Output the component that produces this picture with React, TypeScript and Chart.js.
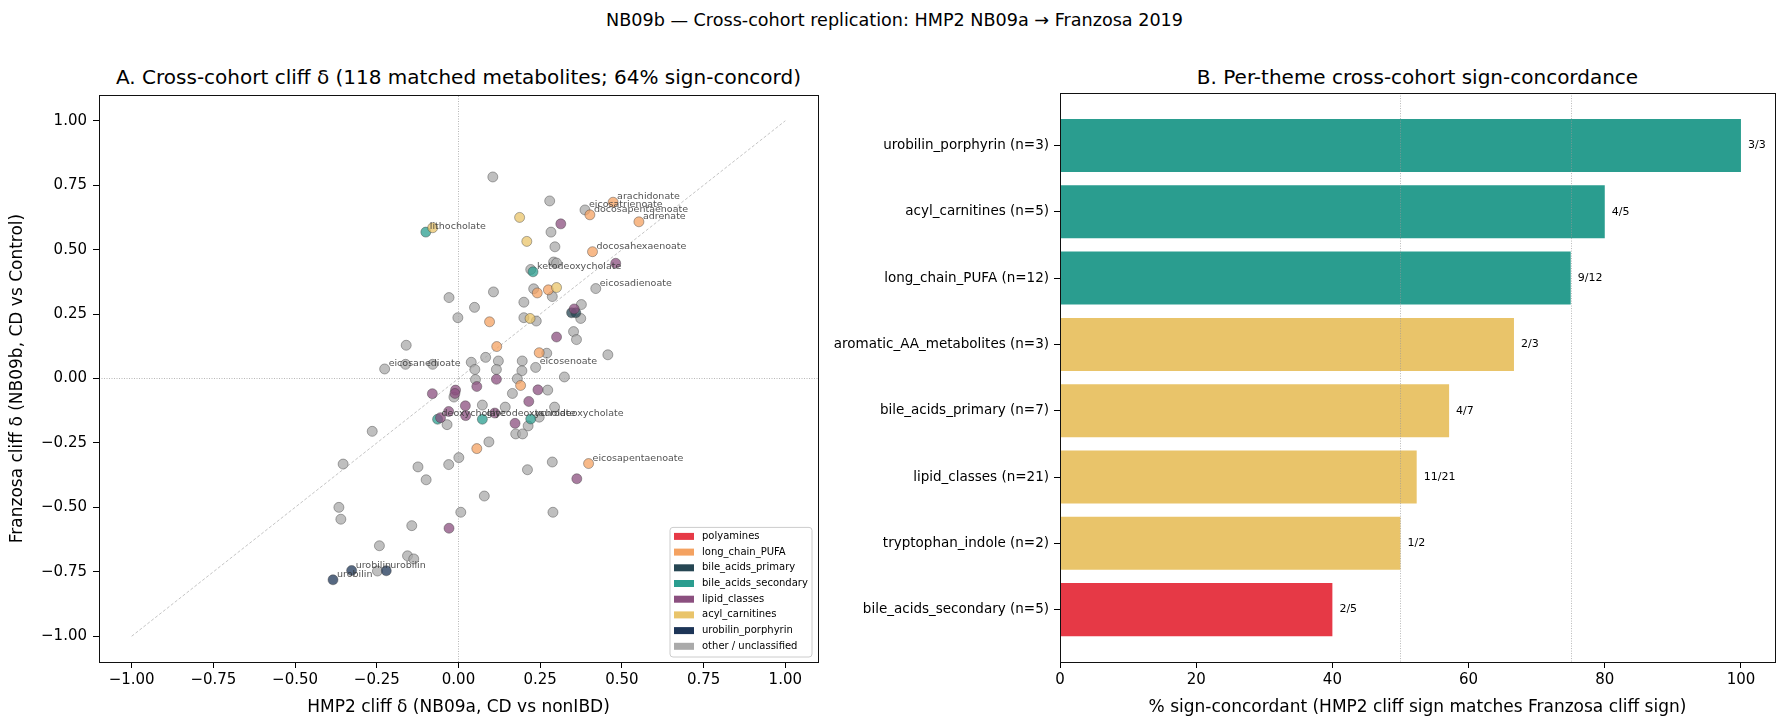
import React, { useEffect, useRef } from 'react';
import { Chart, registerables } from 'chart.js';

Chart.register(...registerables);

const FONT = "'DejaVu Sans', 'Liberation Sans', sans-serif";

// ---------- text ----------
const SUPTITLE = 'NB09b — Cross-cohort replication: HMP2 NB09a → Franzosa 2019';
const TITLE_A = 'A. Cross-cohort cliff δ (118 matched metabolites; 64% sign-concord)';
const TITLE_B = 'B. Per-theme cross-cohort sign-concordance';
const XLABEL_A = 'HMP2 cliff δ (NB09a, CD vs nonIBD)';
const YLABEL_A = 'Franzosa cliff δ (NB09b, CD vs Control)';
const XLABEL_B = '% sign-concordant (HMP2 cliff sign matches Franzosa cliff sign)';

// ---------- panel A ----------
const TICKS_A = [-1, -0.75, -0.5, -0.25, 0, 0.25, 0.5, 0.75, 1];
const RANGE_A = [-1.1, 1.1];
const DIAG_A = [-1, 1];

const LEGEND_THEMES = [
  'polyamines',
  'long_chain_PUFA',
  'bile_acids_primary',
  'bile_acids_secondary',
  'lipid_classes',
  'acyl_carnitines',
  'urobilin_porphyrin',
  'other / unclassified',
];
const LEGEND_COLORS = ['#e63946', '#f4a261', '#264653', '#2a9d8f', '#8b4f7f', '#e9c46a', '#1d3557', '#aaaaaa'];

const PUFA_X = [0.473, 0.402, 0.552, 0.41, 0.241, 0.275, 0.095, 0.117, 0.247, 0.19, 0.056, 0.398];
const PUFA_Y = [0.684, 0.635, 0.608, 0.492, 0.332, 0.344, 0.22, 0.124, 0.1, -0.027, -0.272, -0.33];
const PUFA_LABELS: [number, string][] = [[0, 'arachidonate'], [1, 'docosapentaenoate'], [2, 'adrenate'], [3, 'docosahexaenoate'], [11, 'eicosapentaenoate']];

const BAP_X = [0.346, 0.359];
const BAP_Y = [0.255, 0.255];
const BAP_LABELS: [number, string][] = [];

const BAS_X = [-0.1, 0.228, -0.064, 0.073, 0.221];
const BAS_Y = [0.568, 0.414, -0.158, -0.158, -0.157];
const BAS_LABELS: [number, string][] = [[0, 'lithocholate'], [1, 'ketodeoxycholate'], [2, 'deoxycholate'], [3, 'glycodeoxycholate'], [4, 'taurodeoxycholate']];

const LIPID_X = [0.313, 0.481, 0.354, 0.3, 0.116, 0.056, -0.08, -0.009, -0.011, 0.243, 0.215, 0.021, -0.03, -0.055, 0.022, 0.111, 0.173, 0.362, -0.029];
const LIPID_Y = [0.6, 0.447, 0.27, 0.161, -0.003, -0.031, -0.059, -0.045, -0.058, -0.044, -0.089, -0.106, -0.128, -0.152, -0.144, -0.134, -0.174, -0.389, -0.581];
const LIPID_LABELS: [number, string][] = [];

const ACYL_X = [-0.079, 0.187, 0.209, 0.3, 0.219];
const ACYL_Y = [0.585, 0.625, 0.532, 0.353, 0.233];
const ACYL_LABELS: [number, string][] = [];

const URO_X = [-0.327, -0.221, -0.384];
const URO_Y = [-0.745, -0.746, -0.781];
const URO_LABELS: [number, string][] = [[0, 'urobilin'], [1, 'urobilin'], [2, 'urobilin']];

const OTHER_X = [0.105, 0.279, 0.387, 0.283, 0.295, 0.291, 0.3, 0.221, 0.42, -0.029, 0.107, 0.049, 0.23, 0.287, 0.2, 0.376, 0.374, -0.002, 0.2, 0.238, 0.352, 0.361, -0.16, 0.27, 0.457, -0.226, -0.162, -0.079, 0.039, 0.083, 0.122, 0.05, 0.116, 0.195, 0.194, 0.236, 0.324, 0.052, 0.18, -0.014, 0.165, 0.273, 0.073, 0.143, 0.294, 0.247, -0.035, 0.213, 0.175, 0.196, 0.093, 0.001, -0.03, -0.124, -0.099, 0.211, 0.287, 0.079, 0.007, 0.289, -0.143, -0.156, -0.137, -0.264, -0.353, -0.366, -0.36, -0.242, -0.248];
const OTHER_Y = [0.782, 0.689, 0.654, 0.568, 0.511, 0.452, 0.448, 0.423, 0.349, 0.314, 0.336, 0.276, 0.348, 0.318, 0.296, 0.287, 0.233, 0.236, 0.236, 0.223, 0.182, 0.151, 0.129, 0.098, 0.092, 0.037, 0.055, 0.055, 0.063, 0.082, 0.068, 0.035, 0.035, 0.068, 0.03, 0.043, 0.006, -0.004, -0.001, -0.072, -0.058, -0.045, -0.103, -0.111, -0.111, -0.15, -0.179, -0.184, -0.215, -0.215, -0.246, -0.307, -0.334, -0.343, -0.393, -0.354, -0.324, -0.456, -0.519, -0.519, -0.571, -0.688, -0.7, -0.205, -0.332, -0.5, -0.546, -0.649, -0.747];
const OTHER_LABELS: [number, string][] = [[2, 'eicosatrienoate'], [8, 'eicosadienoate'], [25, 'eicosanedioate'], [35, 'eicosenoate']];

// ---------- panel B ----------
const THEMES_B = [
  'urobilin_porphyrin',
  'acyl_carnitines',
  'long_chain_PUFA',
  'aromatic_AA_metabolites',
  'bile_acids_primary',
  'lipid_classes',
  'tryptophan_indole',
  'bile_acids_secondary',
];
const N_B = [3, 5, 12, 3, 7, 21, 2, 5];
const CONCORDANT_B = [3, 4, 9, 2, 4, 11, 1, 2];
const TICKS_B = [0, 20, 40, 60, 80, 100];
const RANGE_B = [0, 105];
const REF_LINES_B = [50, 75];
const BAR_COLORS = { high: '#2a9d8f', mid: '#e9c46a', low: '#e63946' };

// ---------- helpers ----------
function rgba(hex: string, a: number) {
  const h = hex.replace('#', '');
  const r = parseInt(h.slice(0, 2), 16);
  const g = parseInt(h.slice(2, 4), 16);
  const b = parseInt(h.slice(4, 6), 16);
  return `rgba(${r},${g},${b},${a})`;
}
const fmtA = (v: number) => (v < 0 ? '\u2212' : '') + Math.abs(v).toFixed(2);

const framePlugin = {
  id: 'frame',
  afterDraw(chart: any) {
    const { ctx, chartArea: a } = chart;
    ctx.save();
    ctx.strokeStyle = '#111';
    ctx.lineWidth = 1;
    ctx.strokeRect(Math.round(a.left) + 0.5, Math.round(a.top) + 0.5, Math.round(a.right - a.left), Math.round(a.bottom - a.top));
    ctx.restore();
  },
};

function ScatterPanel() {
  const ref = useRef<HTMLCanvasElement>(null);
  useEffect(() => {
    const groups = [
      { theme: 1, x: PUFA_X, y: PUFA_Y, labels: PUFA_LABELS },
      { theme: 2, x: BAP_X, y: BAP_Y, labels: BAP_LABELS },
      { theme: 3, x: BAS_X, y: BAS_Y, labels: BAS_LABELS },
      { theme: 4, x: LIPID_X, y: LIPID_Y, labels: LIPID_LABELS },
      { theme: 5, x: ACYL_X, y: ACYL_Y, labels: ACYL_LABELS },
      { theme: 6, x: URO_X, y: URO_Y, labels: URO_LABELS },
      { theme: 7, x: OTHER_X, y: OTHER_Y, labels: OTHER_LABELS },
    ];
    const datasets: any[] = groups.map((g) => ({
      type: 'scatter',
      data: g.x.map((x, i) => ({ x, y: g.y[i] })),
      pointRadius: 5,
      pointHoverRadius: 5,
      pointBackgroundColor: rgba(LEGEND_COLORS[g.theme], 0.75),
      pointBorderColor: 'rgba(60,60,60,0.7)',
      pointBorderWidth: 0.6,
      order: g.theme === 7 ? 50 : 20 - g.theme,
    }));
    const lineDs = (pts: { x: number; y: number }[], dash: number[], color: string, w: number) => ({
      type: 'line',
      data: pts,
      showLine: true,
      borderColor: color,
      borderWidth: w,
      borderDash: dash,
      pointRadius: 0,
      fill: false,
      order: 100,
    });
    datasets.push(lineDs([{ x: DIAG_A[0], y: DIAG_A[0] }, { x: DIAG_A[1], y: DIAG_A[1] }], [3, 2], '#b5b5b5', 0.8));
    datasets.push(lineDs([{ x: RANGE_A[0], y: 0 }, { x: RANGE_A[1], y: 0 }], [1, 1.5], '#9a9a9a', 0.7));
    datasets.push(lineDs([{ x: 0, y: RANGE_A[0] }, { x: 0, y: RANGE_A[1] }], [1, 1.5], '#9a9a9a', 0.7));

    const labelPlugin = {
      id: 'pointLabels',
      afterDatasetsDraw(chart: any) {
        const { ctx } = chart;
        ctx.save();
        ctx.font = `9.5px ${FONT}`;
        ctx.fillStyle = 'rgba(50,50,50,0.85)';
        ctx.textAlign = 'left';
        ctx.textBaseline = 'alphabetic';
        groups.forEach((g, di) => {
          const meta = chart.getDatasetMeta(di);
          g.labels.forEach(([idx, text]) => {
            const el = meta.data[idx];
            if (el) ctx.fillText(text, el.x + 4, el.y - 3);
          });
        });
        ctx.restore();
      },
    };

    const legendPlugin = {
      id: 'boxLegend',
      afterDraw(chart: any) {
        const { ctx, chartArea: a } = chart;
        const w = 142;
        const rowH = 15.7;
        const h = LEGEND_THEMES.length * rowH + 4;
        const right = a.right - 6;
        const bottom = a.bottom - 5;
        const left = right - w;
        const top = bottom - h;
        ctx.save();
        ctx.beginPath();
        const r = 3;
        ctx.moveTo(left + r, top);
        ctx.lineTo(right - r, top);
        ctx.quadraticCurveTo(right, top, right, top + r);
        ctx.lineTo(right, bottom - r);
        ctx.quadraticCurveTo(right, bottom, right - r, bottom);
        ctx.lineTo(left + r, bottom);
        ctx.quadraticCurveTo(left, bottom, left, bottom - r);
        ctx.lineTo(left, top + r);
        ctx.quadraticCurveTo(left, top, left + r, top);
        ctx.closePath();
        ctx.fillStyle = 'rgba(255,255,255,0.8)';
        ctx.fill();
        ctx.strokeStyle = '#cccccc';
        ctx.lineWidth = 1;
        ctx.stroke();
        ctx.font = `10px ${FONT}`;
        ctx.textBaseline = 'middle';
        ctx.textAlign = 'left';
        LEGEND_THEMES.forEach((t, i) => {
          const cy = top + 9 + i * rowH;
          ctx.fillStyle = LEGEND_COLORS[i];
          ctx.fillRect(left + 4, cy - 3.5, 20, 7);
          ctx.fillStyle = '#000';
          ctx.fillText(t, left + 32, cy);
        });
        ctx.restore();
      },
    };

    const axisCommon = {
      type: 'linear',
      min: RANGE_A[0],
      max: RANGE_A[1],
      grid: { display: true, drawOnChartArea: false, drawTicks: true, tickLength: 6, tickColor: '#000', tickWidth: 1 },
      border: { display: false },
      ticks: { color: '#000', font: { family: FONT, size: 15 }, callback: (v: any) => fmtA(Number(v)), autoSkip: false, maxRotation: 0 },
      afterBuildTicks: (axis: any) => {
        axis.ticks = TICKS_A.map((v) => ({ value: v }));
      },
    };

    const chart = new Chart(ref.current as HTMLCanvasElement, {
      type: 'scatter',
      data: { datasets },
      options: {
        animation: false,
        responsive: false,
        events: [],
        layout: { padding: { top: 12, right: 22, bottom: 0, left: 0 } },
        plugins: { legend: { display: false }, tooltip: { enabled: false }, title: { display: false } },
        scales: {
          x: {
            ...axisCommon,
            ticks: { ...axisCommon.ticks, padding: 3 },
            title: { display: true, text: XLABEL_A, color: '#000', font: { family: FONT, size: 17 }, padding: { top: 0, bottom: 10 } },
            afterFit: (axis: any) => {
              axis.height = 66;
            },
          },
          y: {
            ...axisCommon,
            ticks: { ...axisCommon.ticks, padding: 6 },
            title: { display: true, text: YLABEL_A, color: '#000', font: { family: FONT, size: 17 }, padding: { top: 7, bottom: 0 } },
            afterFit: (axis: any) => {
              axis.width = 99;
            },
          },
        },
      } as any,
      plugins: [labelPlugin, legendPlugin, framePlugin],
    });
    return () => chart.destroy();
  }, []);
  return <canvas ref={ref} width={840} height={648} style={{ position: 'absolute', left: 0, top: 80, width: 840, height: 648 }} />;
}

function BarPanel() {
  const ref = useRef<HTMLCanvasElement>(null);
  useEffect(() => {
    const pct = THEMES_B.map((_, i) => (CONCORDANT_B[i] / N_B[i]) * 100);
    const colors = pct.map((p) => (p >= 75 ? BAR_COLORS.high : p >= 50 ? BAR_COLORS.mid : BAR_COLORS.low));
    const catLabels = THEMES_B.map((t, i) => `${t} (n=${N_B[i]})`);

    const annotPlugin = {
      id: 'barAnnot',
      afterDatasetsDraw(chart: any) {
        const { ctx, chartArea: a } = chart;
        const xs = chart.scales.x;
        ctx.save();
        ctx.strokeStyle = '#999';
        ctx.lineWidth = 0.7;
        ctx.setLineDash([1, 1.5]);
        REF_LINES_B.forEach((v) => {
          const px = Math.round(xs.getPixelForValue(v)) + 0.5;
          ctx.beginPath();
          ctx.moveTo(px, a.top);
          ctx.lineTo(px, a.bottom);
          ctx.stroke();
        });
        ctx.setLineDash([]);
        const meta = chart.getDatasetMeta(0);
        ctx.font = `11px ${FONT}`;
        ctx.fillStyle = '#000';
        ctx.textAlign = 'left';
        ctx.textBaseline = 'middle';
        meta.data.forEach((el: any, i: number) => {
          ctx.fillText(`${CONCORDANT_B[i]}/${N_B[i]}`, el.x + 7, el.y);
        });
        ctx.restore();
      },
    };

    const chart = new Chart(ref.current as HTMLCanvasElement, {
      type: 'bar',
      data: {
        datasets: [
          {
            data: pct.map((p, i) => ({ x: p, y: i })),
            backgroundColor: colors,
            borderWidth: 0,
            barPercentage: 0.8,
            categoryPercentage: 1,
          },
        ],
      },
      options: {
        animation: false,
        responsive: false,
        events: [],
        indexAxis: 'y',
        layout: { padding: { top: 12, right: 14, bottom: 0, left: 0 } },
        plugins: { legend: { display: false }, tooltip: { enabled: false }, title: { display: false } },
        scales: {
          x: {
            type: 'linear',
            min: RANGE_B[0],
            max: RANGE_B[1],
            offset: false,
            grid: { display: true, offset: false, drawOnChartArea: false, drawTicks: true, tickLength: 6, tickColor: '#000', tickWidth: 1 },
            border: { display: false },
            ticks: { color: '#000', font: { family: FONT, size: 15 }, padding: 3, autoSkip: false, maxRotation: 0, callback: (v: any) => String(v) },
            afterBuildTicks: (axis: any) => {
              axis.ticks = TICKS_B.map((v) => ({ value: v }));
            },
            title: { display: true, text: XLABEL_B, color: '#000', font: { family: FONT, size: 17 }, padding: { top: 0, bottom: 10 } },
            afterFit: (axis: any) => {
              axis.height = 66;
            },
          },
          y: {
            type: 'linear',
            min: -0.79,
            max: THEMES_B.length - 1 + 0.79,
            reverse: true,
            offset: false,
            grid: { display: true, offset: false, drawOnChartArea: false, drawTicks: true, tickLength: 6, tickColor: '#000', tickWidth: 1 },
            border: { display: false },
            ticks: { color: '#000', font: { family: FONT, size: 13.5 }, padding: 5, autoSkip: false, callback: (v: any) => catLabels[Math.round(Number(v))] ?? '' },
            afterBuildTicks: (axis: any) => {
              axis.ticks = THEMES_B.map((_, i) => ({ value: i }));
            },
            afterFit: (axis: any) => {
              axis.width = 260;
            },
          },
        },
      } as any,
      plugins: [annotPlugin, framePlugin],
    });
    return () => chart.destroy();
  }, []);
  return <canvas ref={ref} width={989} height={648} style={{ position: 'absolute', left: 800, top: 80, width: 989, height: 648 }} />;
}

function Title({ text, cx, cy, size }: { text: string; cx: number; cy: number; size: number }) {
  return (
    <div
      style={{
        position: 'absolute',
        left: cx - 500,
        width: 1000,
        top: cy - 12,
        height: 24,
        lineHeight: '24px',
        textAlign: 'center',
        fontFamily: FONT,
        fontSize: size,
        color: '#000',
        whiteSpace: 'nowrap',
      }}
    >
      {text}
    </div>
  );
}

export default function App() {
  useEffect(() => {
    document.body.style.margin = '0';
    document.body.style.background = '#fff';
  }, []);
  return (
    <div style={{ position: 'relative', width: 1789, height: 728, background: '#fff', overflow: 'hidden' }}>
      <Title text={SUPTITLE} cx={894.5} cy={19.5} size={17.6} />
      <Title text={TITLE_A} cx={458.5} cy={76.5} size={20} />
      <Title text={TITLE_B} cx={1417.5} cy={76.5} size={20} />
      <ScatterPanel />
      <BarPanel />
    </div>
  );
}
